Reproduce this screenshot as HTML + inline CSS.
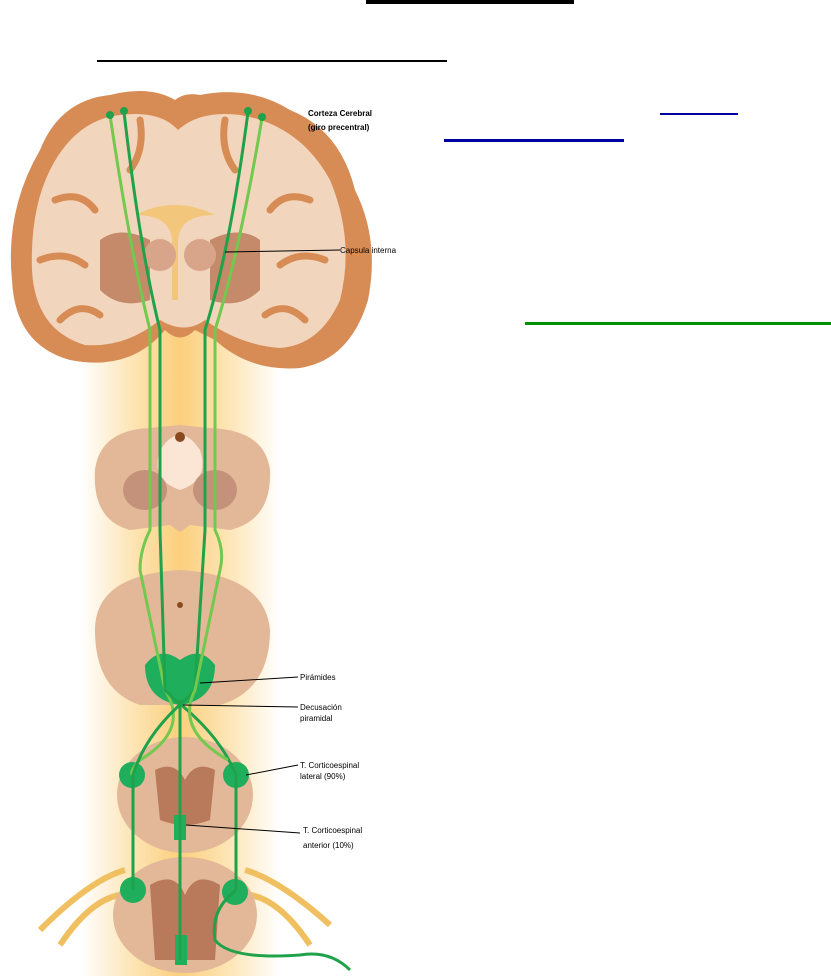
<!DOCTYPE html>
<html><head><meta charset="utf-8"><style>
body{margin:0;width:831px;height:976px;background:#fff;position:relative;overflow:hidden;font-family:"Liberation Sans",sans-serif}
.l{position:absolute}
</style></head><body>
<div class="l" style="left:366px;top:0;width:208px;height:4px;background:#000"></div>
<div class="l" style="left:97px;top:60px;width:350px;height:2px;background:#000"></div>
<div class="l" style="left:660px;top:113px;width:78px;height:2px;background:#0000a0"></div>
<div class="l" style="left:444px;top:139px;width:180px;height:3px;background:#0000a0"></div>
<div class="l" style="left:525px;top:322px;width:306px;height:3px;background:#009000"></div>
<svg class="l" style="left:0;top:89px" width="440" height="887" viewBox="0 89 440 887">
<defs>
<linearGradient id="g" x1="0" x2="1"><stop offset="0" stop-color="#fff"/><stop offset=".25" stop-color="#fde6b8"/><stop offset=".5" stop-color="#fbcf7c"/><stop offset=".75" stop-color="#fde6b8"/><stop offset="1" stop-color="#fff"/></linearGradient>
</defs>
<rect x="80" y="300" width="200" height="676" fill="url(#g)"/>
<!-- brain -->
<path d="M40 150 Q60 100 110 95 Q150 85 175 100 Q185 92 200 95 Q250 85 290 110 Q340 130 355 190 Q380 240 368 300 Q350 360 300 368 Q250 372 215 340 L195 330 Q180 345 165 330 Q130 372 70 360 Q15 345 12 280 Q5 210 40 150Z" fill="#d88c55"/>
<path d="M50 170 Q75 120 120 115 Q160 110 178 130 Q200 110 240 115 Q300 125 330 180 Q355 240 340 300 Q320 345 280 348 Q240 345 205 320 Q185 335 160 320 Q125 348 85 345 Q35 330 32 270 Q30 210 50 170Z" fill="#f2d5bd"/>
<g stroke="#d88c55" stroke-width="7" fill="none" stroke-linecap="round">
<path d="M55 200 Q80 190 95 210"/><path d="M40 260 Q65 250 85 265"/><path d="M60 320 Q80 300 100 315"/>
<path d="M310 200 Q285 190 270 210"/><path d="M325 260 Q300 250 280 265"/><path d="M305 320 Q285 300 265 315"/>
<path d="M140 120 Q145 150 130 170"/><path d="M225 120 Q220 150 235 170"/>
</g>
<path d="M100 240 Q120 225 150 240 L150 300 Q120 310 100 290Z" fill="#c48a6a"/>
<path d="M260 240 Q240 225 210 240 L210 300 Q240 310 260 290Z" fill="#c48a6a"/>
<path d="M135 215 Q175 195 215 215 Q180 215 178 240 L178 300 L172 300 L172 240 Q170 215 135 215Z" fill="#f2c77c"/>
<circle cx="160" cy="255" r="16" fill="#d9a58a"/><circle cx="200" cy="255" r="16" fill="#d9a58a"/>
<!-- midbrain -->
<path d="M95 470 Q100 430 150 428 L180 425 L210 428 Q265 430 270 470 Q272 520 230 530 L190 525 L180 532 L170 525 L130 530 Q92 520 95 470Z" fill="#e3b898"/>
<path d="M160 450 Q180 420 200 450 Q210 480 180 490 Q150 480 160 450Z" fill="#fbe5d5"/>
<circle cx="180" cy="437" r="5" fill="#8a4a20"/>
<ellipse cx="145" cy="490" rx="22" ry="20" fill="#c4917a"/><ellipse cx="215" cy="490" rx="22" ry="20" fill="#c4917a"/>
<!-- medulla -->
<path d="M95 630 Q95 575 180 570 Q265 575 270 630 Q270 690 220 705 L140 705 Q95 690 95 630Z" fill="#e3b898"/>
<circle cx="180" cy="605" r="3" fill="#8a4a20"/>
<path d="M145 665 Q160 645 180 660 Q200 645 215 665 Q215 700 180 705 Q145 700 145 665Z" fill="#1fae5c"/>
<!-- cord 1 -->
<ellipse cx="185" cy="795" rx="68" ry="58" fill="#e3b898"/>
<path d="M155 770 Q175 760 185 780 Q195 760 215 770 L210 820 Q185 830 160 820Z" fill="#b87a5a"/>
<circle cx="132" cy="775" r="13" fill="#1fae5c"/><circle cx="236" cy="775" r="13" fill="#1fae5c"/>
<rect x="174" y="815" width="12" height="25" fill="#1fae5c"/>
<!-- cord 2 -->
<path d="M60 945 Q90 900 120 895 M310 945 Q280 900 250 895 M40 930 Q90 880 125 870 M330 925 Q280 880 245 870" stroke="#f0c060" stroke-width="6" fill="none"/>
<ellipse cx="185" cy="915" rx="72" ry="58" fill="#e3b898"/>
<path d="M150 885 Q175 870 185 895 Q195 870 220 885 L215 960 L155 960Z" fill="#b87a5a"/>
<circle cx="133" cy="890" r="13" fill="#1fae5c"/><circle cx="235" cy="892" r="13" fill="#1fae5c"/>
<rect x="175" y="935" width="12" height="30" fill="#1fae5c"/>
<!-- tracts -->
<g fill="none" stroke-width="3">
<path d="M110 115 Q130 250 150 330 L150 530 Q140 550 140 570 L165 690 Q190 730 140 760 Q130 770 132 775" stroke="#73c84e"/>
<path d="M124 112 Q140 250 160 330 L160 530 L165 690 L175 700 Q220 735 236 775 L236 890" stroke="#1fa24a"/>
<path d="M248 112 Q230 250 205 330 L205 530 L195 690 L185 700 Q145 735 133 775 L133 890" stroke="#1fa24a"/>
<path d="M262 118 Q240 250 215 330 L215 530 Q225 550 220 570 L195 690 Q175 730 228 760" stroke="#73c84e"/>
<path d="M180 700 L180 960 M236 890 Q210 910 215 940 Q230 960 300 955 Q330 950 350 970" stroke="#1fa24a"/>
</g>
<g fill="#1fa24a"><circle cx="110" cy="115" r="4"/><circle cx="124" cy="111" r="4"/><circle cx="248" cy="111" r="4"/><circle cx="262" cy="117" r="4"/></g>
<g stroke="#000" stroke-width="1">
<line x1="225" y1="252" x2="340" y2="250"/>
<line x1="200" y1="683" x2="298" y2="677"/>
<line x1="183" y1="705" x2="298" y2="707"/>
<line x1="246" y1="775" x2="298" y2="765"/>
<line x1="186" y1="825" x2="300" y2="833"/>
</g>
<g font-family="Liberation Sans, sans-serif" font-size="8" fill="#000">
<text x="308" y="116" font-weight="bold">Corteza Cerebral</text>
<text x="308" y="130" font-weight="bold">(giro precentral)</text>
<text x="340" y="253">Capsula interna</text>
<text x="300" y="680">Pirámides</text>
<text x="300" y="710">Decusación</text>
<text x="300" y="721">piramidal</text>
<text x="300" y="768">T. Corticoespinal</text>
<text x="300" y="779">lateral (90%)</text>
<text x="303" y="833">T. Corticoespinal</text>
<text x="303" y="848">anterior (10%)</text>
</g>
</svg>
</body></html>
